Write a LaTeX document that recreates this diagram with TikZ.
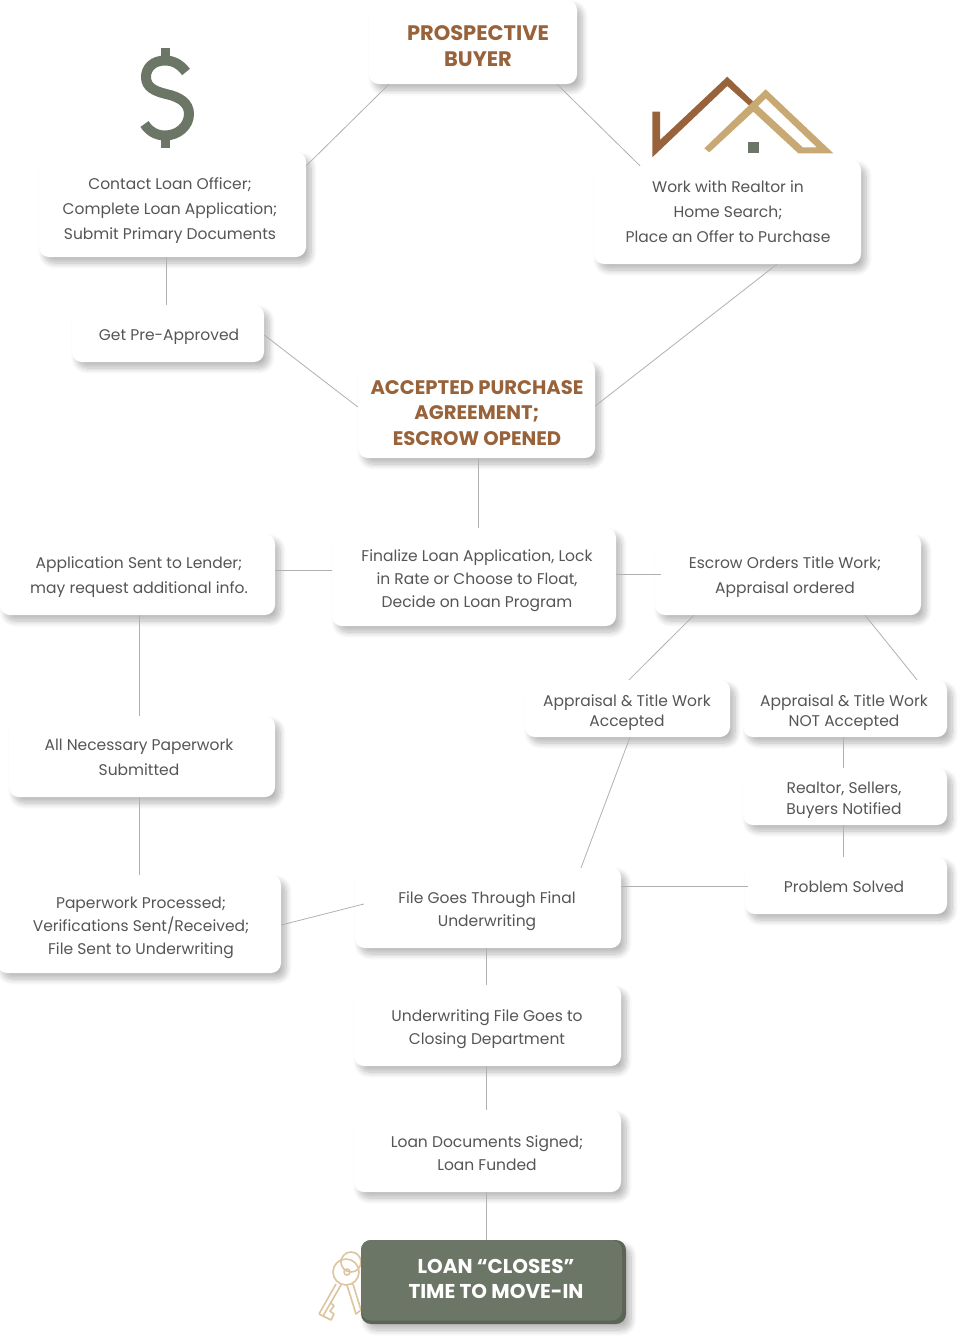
\documentclass[tikz,border=0pt]{standalone}
\usepackage{fontspec}
\usepackage{xcolor}
\setmainfont{Poppins}
\usetikzlibrary{shadows.blur}
\definecolor{brownish}{HTML}{98623A}
\definecolor{tanish}{HTML}{C8A873}
\definecolor{keytan}{HTML}{DCC49E}
\definecolor{sage}{HTML}{6C7666}
\definecolor{sagedark}{HTML}{5B6456}
\definecolor{bodygray}{HTML}{555555}
\definecolor{linkgray}{HTML}{B0B0B0}
\newcommand{\cardfont}[1]{\fontsize{15.5}{#1}\selectfont}
\newcommand{\titlefont}[1]{\fontsize{#1}{25.5}\selectfont\bfseries}
\tikzset{
	card/.style={draw=none,fill=white,rounded corners=10pt,inner sep=0pt,
		blur shadow={shadow xshift=5pt,shadow yshift=-6pt,shadow blur steps=10,shadow blur radius=6pt,shadow opacity=28}},
	cardtext/.style={align=center,inner sep=0pt,text=bodygray,font=\cardfont{#1}},
	cardtext/.default=25,
	titletext/.style={align=center,inner sep=0pt,text=brownish,font=\titlefont{#1}},
	titletext/.default=19.6,
	link/.style={draw=linkgray,line width=0.8pt},
	keyline/.style={draw=keytan,line width=1.6pt,line join=round}
}
\begin{document}
\begin{tikzpicture}[x=1pt,y=-1pt]
	\useasboundingbox (0,0) rectangle (963,1341);
	% icons
	\draw[sage,line width=10pt] (186,72) .. controls (180,64) and (173,60.5) .. (165,60.5) .. controls (153,60.5) and (146,68) .. (146,77) .. controls (146,87) and (154,91) .. (166,94) .. controls (180,97) and (189,103) .. (189,114) .. controls (189,126) and (178,135.5) .. (165,135.5) .. controls (156,135.5) and (149,131) .. (144.5,124);
	\fill[sage] (161,48) rectangle (170,60);
	\fill[sage] (161,136) rectangle (170,148);
	\fill[brownish] (652.3,111.7) -- (660,111.7) -- (660,140) -- (727.3,76.7) -- (753.3,101.7) -- (749.3,105.7) -- (727.3,86) -- (652.3,157.3) -- cycle;
	\fill[tanish,even odd rule] (704.3,148.3) -- (765.7,89.3) -- (833.3,153.3) -- (798.3,153.3) -- (753.3,111.7) -- (709.3,152.3) -- cycle
		(765.7,98.3) -- (758,106) -- (802.7,147.3) -- (816.7,147.3) -- cycle;
	\fill[sage] (747.7,141.7) rectangle (759.3,153.3);
	% keys
	\draw[keyline] (351,1262) circle(10pt);
	\draw[keyline] (346,1272) circle(13pt);
	\draw[keyline] (347,1272) circle(3pt);
	\draw[keyline] (341,1285) -- (323,1316) -- (319,1314) (336,1284) -- (319,1314) (323,1316) -- (331,1320) -- (334,1314) -- (330,1311) -- (334,1306) -- (331,1303);
	\draw[keyline] (353,1284) -- (361,1310) (347,1285) -- (356,1314) -- (361,1310);
	% boxes
	\node[card,minimum width=208pt,minimum height=84pt] (buyer) at (473,42) {};
	\node[card,minimum width=267pt,minimum height=105pt] (officer) at (172.5,204.5) {};
	\node[card,minimum width=267pt,minimum height=104pt] (realtor) at (727.5,212) {};
	\node[card,minimum width=192pt,minimum height=57pt] (preapproved) at (168,333.5) {};
	\node[card,minimum width=237pt,minimum height=98pt] (accepted) at (476.5,409) {};
	\node[card,minimum width=284pt,minimum height=98pt] (finalize) at (474,577) {};
	\node[card,minimum width=275pt,minimum height=81pt] (application) at (137.5,574.5) {};
	\node[card,minimum width=266pt,minimum height=81pt] (escrow) at (788,574.5) {};
	\node[card,minimum width=205pt,minimum height=57pt] (workok) at (627.5,708.5) {};
	\node[card,minimum width=204pt,minimum height=57pt] (workno) at (845,708.5) {};
	\node[card,minimum width=204pt,minimum height=57pt] (notified) at (845,796.5) {};
	\node[card,minimum width=202pt,minimum height=57pt] (solved) at (846,885.5) {};
	\node[card,minimum width=266pt,minimum height=81pt] (paperwork) at (142,756.5) {};
	\node[card,minimum width=284pt,minimum height=98pt] (processed) at (139,924) {};
	\node[card,minimum width=266pt,minimum height=81pt] (underwriting) at (488,907.5) {};
	\node[card,minimum width=267pt,minimum height=81pt] (closing) at (487.5,1025.5) {};
	\node[card,minimum width=267pt,minimum height=82pt] (signed) at (487.5,1151) {};
	\node[card,fill=sagedark,minimum width=265pt,minimum height=84pt] (closes) at (493.5,1282) {};
	\fill[sage,rounded corners=10pt] (361,1240) rectangle (622,1320.5);
	% text
	\node[titletext=21] (buyertext) at (478,46) {PROSPECTIVE\\BUYER};
	\node[cardtext] (officertext) at (170,210.5) {Contact Loan Officer;\\Complete Loan Application;\\Submit Primary Documents};
	\node[cardtext] (realtortext) at (728,212) {Work with Realtor in\\Home Search;\\Place an Offer to Purchase};
	\node[cardtext] (preapprovedtext) at (169,337) {Get Pre-Approved};
	\node[titletext] (acceptedtext) at (477,413) {ACCEPTED PURCHASE\\AGREEMENT;\\ESCROW OPENED};
	\node[cardtext=23] (finalizetext) at (477,581) {Finalize Loan Application, Lock\\in Rate or Choose to Float,\\Decide on Loan Program};
	\node[cardtext] (applicationtext) at (139,577) {Application Sent to Lender;\\may request additional info.};
	\node[cardtext] (escrowtext) at (785,577) {Escrow Orders Title Work;\\Appraisal ordered};
	\node[cardtext=20.5] (workoktext) at (627,712.5) {Appraisal \& Title Work\\Accepted};
	\node[cardtext=20.5] (worknotext) at (844,712.5) {Appraisal \& Title Work\\NOT Accepted};
	\node[cardtext=20.5] (notifiedtext) at (844,800.5) {Realtor, Sellers,\\Buyers Notified};
	\node[cardtext] (solvedtext) at (844,887) {Problem Solved};
	\node[cardtext] (paperworktext) at (139,757) {All Necessary Paperwork\\Submitted};
	\node[cardtext=23] (processedtext) at (141,928) {Paperwork Processed;\\Verifications Sent/Received;\\File Sent to Underwriting};
	\node[cardtext=23] (underwritingtext) at (487,911) {File Goes Through Final\\Underwriting};
	\node[cardtext=23] (closingtext) at (487,1029) {Underwriting File Goes to\\Closing Department};
	\node[cardtext=23] (signedtext) at (487,1153) {Loan Documents Signed;\\Loan Funded};
	\node[titletext=20,text=white] (closestext) at (496,1279) {LOAN “CLOSES”\\TIME TO MOVE-IN};
	% connectors
	\draw[link] ([xshift=-84pt]buyer.south) -- ([yshift=-14pt]officer.north east);
	\draw[link] ([xshift=84pt]buyer.south) -- ([xshift=-87.5pt,yshift=-6pt]realtor.north);
	\draw[link] ([xshift=-6.5pt]officer.south) -- ([xshift=-2pt]preapproved.north);
	\draw[link] ([yshift=-1.5pt]preapproved.east) -- ([yshift=2pt]accepted.west);
	\draw[link] ([xshift=49.5pt]realtor.south) -- ([yshift=3pt]accepted.east);
	\draw[link] ([xshift=1.5pt]accepted.south) -- ([xshift=4pt]finalize.north);
	\draw[link] ([yshift=7pt]finalize.west) -- ([yshift=4.5pt]application.east);
	\draw[link] ([yshift=3pt]finalize.east) -- ([xshift=6pt,yshift=0.5pt]escrow.west);
	\draw[link] ([xshift=-94pt]escrow.south) -- ([xshift=1.5pt]workok.north);
	\draw[link] ([xshift=77pt]escrow.south) -- ([xshift=72pt]workno.north);
	\draw[link] ([xshift=1.5pt]application.south) -- ([xshift=-3pt]paperwork.north);
	\draw[link] ([xshift=-3pt]paperwork.south) -- ([xshift=0pt]processed.north);
	\draw[link] ([xshift=2.5pt]workok.south) -- ([xshift=93pt,yshift=-1pt]underwriting.north);
	\draw[link] ([xshift=-2pt]workno.south) -- ([xshift=-2pt]notified.north);
	\draw[link] ([xshift=-2pt]notified.south) -- ([xshift=-3pt]solved.north);
	\draw[link] ([xshift=3pt,yshift=-0.5pt]solved.west) -- ([yshift=21.5pt]underwriting.east);
	\draw[link] ([xshift=9pt,yshift=3.5pt]underwriting.west) -- ([yshift=-1pt]processed.east);
	\draw[link] ([xshift=-2pt]underwriting.south) -- ([xshift=-1.5pt]closing.north);
	\draw[link] ([xshift=-1.5pt]closing.south) -- ([xshift=-1.5pt]signed.north);
	\draw[link] ([xshift=-1.5pt]signed.south) -- ([xshift=-7.5pt]closes.north);
\end{tikzpicture}
\end{document}
